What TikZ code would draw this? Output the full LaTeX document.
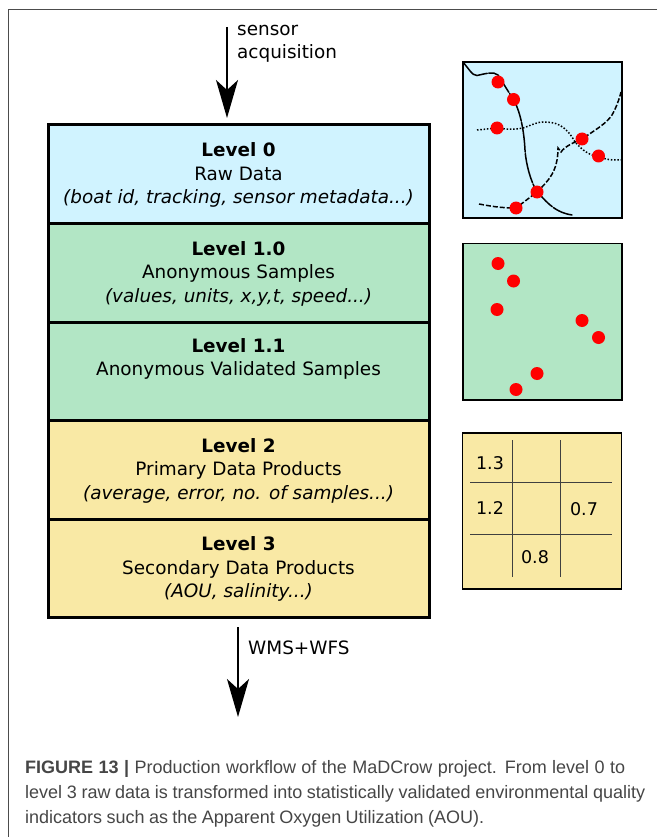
\documentclass[tikz,border=0pt]{standalone}
\usepackage{fontspec}
\setmainfont{DejaVu Sans}
\newfontfamily\capfont{Liberation Sans}
\usetikzlibrary{arrows.meta}
\definecolor{rawblue}{RGB}{208,243,255}
\definecolor{samplegreen}{RGB}{178,230,197}
\definecolor{productyellow}{RGB}{249,233,165}
\definecolor{captiongray}{RGB}{70,70,70}
\tikzset{>={Stealth[length=38pt,width=22pt,inset=10pt]}}
\tikzset{
    levelbox/.style={draw, line width=3pt, outer sep=0pt, minimum width=381pt, minimum height=98.5pt, anchor=north west, align=center, font=\fontsize{18.4}{23.6}\selectfont, inner sep=0pt},
    mapbox/.style={draw, line width=1.8pt, outer sep=0pt, minimum width=159pt, minimum height=156pt, anchor=north west, inner sep=0pt},
    dot/.style={circle, fill=red, minimum size=13pt, inner sep=0pt},
    gridline/.style={line width=1pt, black!75},
    gridlabel/.style={font=\fontsize{17.5}{18}\selectfont},
    flowlabel/.style={font=\fontsize{18.4}{23}\selectfont, anchor=base west, align=left, inner sep=0pt},
    captionline/.style={anchor=base west, inner sep=0pt, text=captiongray, font=\capfont\fontsize{18}{18}\selectfont}
}
\newcommand{\levelhead}[1]{\rule{0pt}{16pt}\textbf{#1}}
\newcommand{\mapdots}[1]{
    \node[dot](#1a) at (498, 82){};
    \node[dot](#1b) at (513.5, 99.5){};
    \node[dot](#1c) at (497, 128){};
    \node[dot](#1d) at (582, 139){};
    \node[dot](#1e) at (598.5, 156){};
    \node[dot](#1f) at (537, 192){};
    \node[dot](#1g) at (516, 208){};
}

\begin{document}
\begin{tikzpicture}[x=1pt, y=-1pt]
    \useasboundingbox (0, 0)rectangle(657, 837);
    \draw[line width=.8pt, black!70](657, 9)--(8, 9)--(8, 837);
    % levels
    \node[levelbox, fill=rawblue](lev0) at (48, 125){\levelhead{Level 0}\\Raw Data\\\textit{(boat id, tracking, sensor metadata...)}};
    \node[levelbox, fill=samplegreen](lev10) at (48, 223.5){\levelhead{Level 1.0}\\Anonymous Samples\\\textit{(values, units, x,y,t, speed...)}};
    \node[levelbox, fill=samplegreen](lev11) at (48, 322){\levelhead{Level 1.1}\\Anonymous Validated Samples\\\strut};
    \node[levelbox, fill=productyellow](lev2) at (48, 420.5){\levelhead{Level 2}\\Primary Data Products\\\textit{(average, error, no. of samples...)}};
    \node[levelbox, fill=productyellow](lev3) at (48, 519){\levelhead{Level 3}\\Secondary Data Products\\\textit{(AOU, salinity...)}};
    % arrows
    \coordinate (in) at (227, 27);
    \coordinate (intip) at (227, 118);
    \coordinate (out) at (238, 627);
    \coordinate (outtip) at (238, 717);
    \draw[->, line width=1.8pt](in)--(intip);
    \draw[->, line width=1.8pt](out)--(outtip);
    \node[flowlabel](acq) at (237, 59){sensor\\acquisition};
    \node[flowlabel](wms) at (248, 654){WMS+WFS};
    % raw data map
    \node[mapbox, fill=rawblue](maptop) at (463, 62){};
    \draw[line width=1.5pt, dash pattern=on 30pt off 1.5pt, line cap=round](463, 62.5) .. controls (468, 67) and (472, 76) .. (477, 75.5) .. controls (484, 74) and (494, 71) .. (498, 75)--(513, 99) .. controls (520, 110) and (524, 130) .. (525, 150) .. controls (526, 165) and (531, 182) .. (537, 192) .. controls (544, 198) and (552, 212) .. (572, 215);
    \draw[line width=1.5pt, dash pattern=on 5pt off 2pt](479, 204) .. controls (490, 206) and (500, 208) .. (516, 208)--(537, 192) .. controls (548, 181) and (558, 172) .. (558, 148)--(561, 152) .. controls (565, 146) and (575, 142) .. (582, 139) .. controls (595, 130) and (606, 124) .. (612, 115) .. controls (616, 108) and (619, 100) .. (621, 92);
    \draw[line width=1.5pt, dash pattern=on 1.5pt off 1.8pt](477, 130)--(497, 128) .. controls (508, 130) and (518, 129) .. (523, 128) .. controls (532, 125) and (537, 122) .. (543, 122) .. controls (555, 122) and (565, 124) .. (575, 142) .. controls (582, 150) and (590, 156) .. (598, 156) .. controls (605, 160) and (612, 160) .. (621, 160);
    \mapdots{t}
    % samples map
    \begin{scope}[yshift=-181.5pt]
        \node[mapbox, fill=samplegreen, minimum height=156.5pt](mapmid) at (463, 62){};
        \mapdots{m}
    \end{scope}
    % products grid
    \node[mapbox, fill=productyellow](mapbot) at (462.5, 433){};
    \draw[gridline](470, 482)--(611.5, 482);
    \draw[gridline](470, 534.5)--(611.5, 534.5);
    \draw[gridline](512.7, 440)--(512.7, 577);
    \draw[gridline](560.7, 440)--(560.7, 577);
    \node[gridlabel](c13) at (490, 463){1.3};
    \node[gridlabel](c12) at (490, 508){1.2};
    \node[gridlabel](c07) at (584, 509){0.7};
    \node[gridlabel](c08) at (535, 557){0.8};
    % caption
    \node[captionline](cap1) at (25, 773){\makebox[600pt][s]{\textbf{FIGURE 13 |} Production workflow of the MaDCrow project. From level 0 to}};
    \node[captionline](cap2) at (25, 798){\makebox[620pt][s]{level 3 raw data is transformed into statistically validated environmental quality}};
    \node[captionline](cap3) at (25, 823){\makebox[459pt][s]{indicators such as the Apparent Oxygen Utilization (AOU).}};
\end{tikzpicture}
\end{document}
